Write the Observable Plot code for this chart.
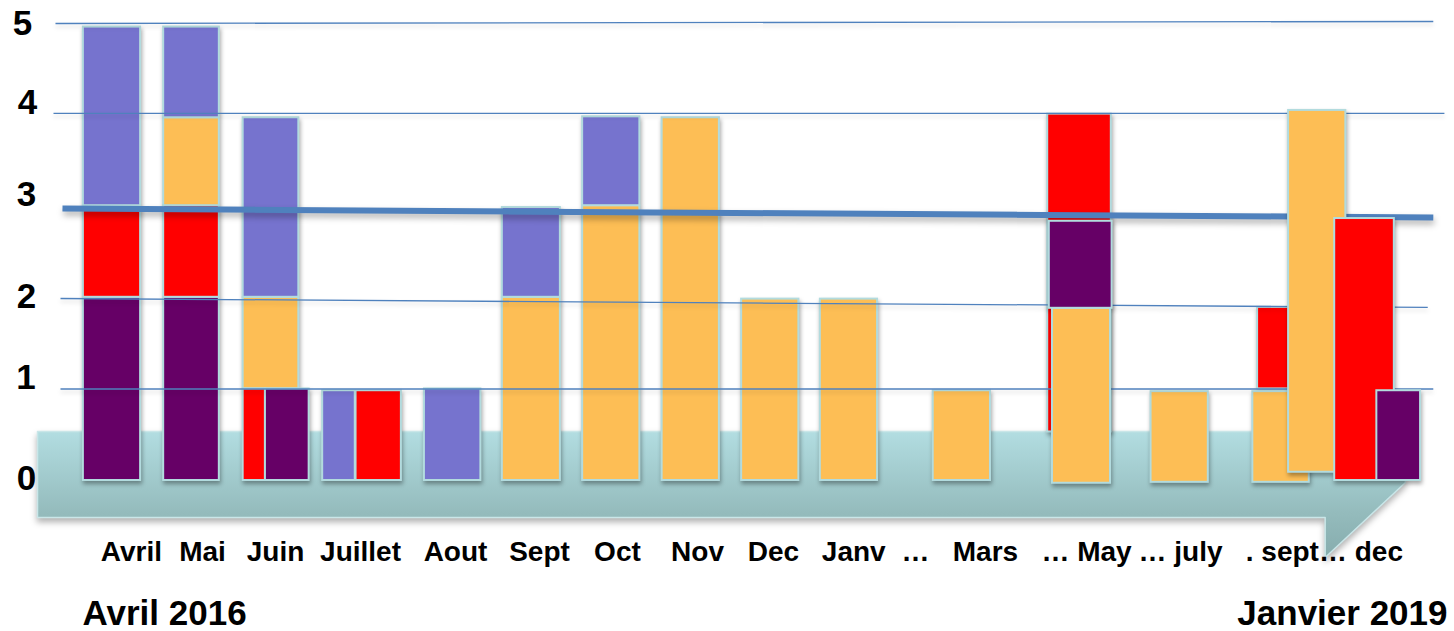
<!DOCTYPE html>
<html>
<head>
<meta charset="utf-8">
<script src="https://cdn.jsdelivr.net/npm/d3@7"></script>
<script src="https://cdn.jsdelivr.net/npm/@observablehq/plot@0.6"></script>
<style>
  html, body { margin: 0; padding: 0; background: #fff; }
  #chart { width: 1454px; height: 631px; overflow: hidden; }
</style>
</head>
<body>
<div id="chart"></div>
<script>
// ---------- DATA ----------
// time-axis labels and their positions on the (slot) time axis
const months = ["Avril", "Mai", "Juin", "Juillet", "Aout", "Sept", "Oct", "Nov", "Dec", "Janv", "…", "Mars", "… May", "… july", ". sept… dec"];
const monthSlots = [0.245, 1.138, 2.057, 3.126, 4.321, 5.377, 6.358, 7.365, 8.321, 9.33, 10.107, 10.987, 12.258, 13.44, 15.25];

// value-axis labels (hand placed next to their level)
const yTicks = [0, 1, 2, 3, 4, 5];
const yTickPos = [0.022, 1.124, 2.009, 3.122, 4.127, 4.989];
const yTickSlot = [-1.0755, -1.082, -1.0755, -1.0755, -1.063, -1.126];

const seriesNames = ["violet", "rouge", "orange", "prune"];

// stacked segments (in drawing order)
const segSeries = ["prune","rouge","violet", "prune","rouge","orange","violet", "orange","violet","rouge","prune", "violet","rouge", "violet", "orange","violet", "orange","violet", "orange", "orange", "orange", "orange", "rouge","orange","prune", "orange", "rouge","orange","orange", "rouge","prune"];
const segFrom   = [0,2,3, 0,2,3,3.96, 1,2,0,0, 0,0, 0, 0,2, 0,3, 0, 0, 0, 0, 0.53,-0.03,1.88, -0.02, 1,-0.02,0.09, 0,0];
const segTo     = [2,3,4.95, 2,3,3.96,4.95, 2,3.96,1,1, 0.98,0.98, 1, 2,2.98, 3,3.97, 3.96, 1.98, 1.98, 0.98, 4,1.88,2.83, 0.97, 1.89,0.97,4.04, 2.86,0.98];
const segLeft   = [-0.36,-0.36,-0.36, 0.65,0.65,0.65,0.65, 1.65,1.65,1.65,1.93, 2.65,3.07, 3.93, 4.91,4.91, 5.92,5.92, 6.92, 7.92, 8.91, 10.33, 11.77,11.83,11.79, 13.07, 14.41,14.35,14.80, 15.38,15.91];
const segRight  = [0.36,0.36,0.36, 1.35,1.35,1.35,1.35, 2.35,2.35,1.93,2.48, 3.06,3.64, 4.64, 5.64,5.64, 6.64,6.64, 7.64, 8.64, 9.63, 11.05, 12.57,12.56,12.58, 13.79, 14.82,15.06,15.52, 16.13,16.46];
const frontSegments = [23, 24, 28, 29, 30];

// horizontal guide lines (hand drawn, slightly slanted) and trend line
const gridFromX = [-0.648, -0.648, -0.736, -0.711];
const gridToX   = [16.62, 16.55, 16.76, 16.62];
const gridFromY = [0.999, 1.987, 4.007, 4.989];
const gridToY   = [0.999, 1.889, 4.007, 5.011];
const trendX = [-0.623, 16.62];
const trendY = [2.969, 2.871];

// timeline arrow outline
const arrowX = [-0.937, 16.21, 16.27, 15.26, 15.26, -0.937, -0.937];
const arrowY = [0.535, 0.535, -0.022, -0.841, -0.404, -0.404, 0.535];

const periodStart = "Avril 2016";
const periodEnd = "Janvier 2019";

// ---------- BUILD ----------
const segs = segSeries.map((s, i) => ({i, series: s, y1: segFrom[i], y2: segTo[i], x1: segLeft[i], x2: segRight[i]}));
const mainSegs = segs.filter(d => !frontSegments.includes(d.i));
const frontSegs = frontSegments.map(i => segs[i]);
const grid = gridFromX.map((x, i) => ({x1: x, x2: gridToX[i], y1: gridFromY[i], y2: gridToY[i]}));
const trend = [{x1: trendX[0], x2: trendX[1], y1: trendY[0], y2: trendY[1]}];
const arrow = arrowX.map((x, i) => ({x, y: arrowY[i]}));
const monthData = months.map((m, i) => ({m, x: monthSlots[i]}));
const tickData = yTicks.map((t, i) => ({t, x: yTickSlot[i], y: yTickPos[i]}));

const font = "'Liberation Sans', Arial, Helvetica, sans-serif";
const barOpts = {x1: "x1", x2: "x2", y1: "y1", y2: "y2", fill: "series", stroke: "#b2dbde", strokeWidth: 2,
  imageFilter: "drop-shadow(1px 3px 2px rgba(0,0,0,0.35))"};

const svg = Plot.plot({
  width: 1454,
  height: 631,
  margin: 0,
  style: {fontFamily: font, background: "white", color: "black"},
  x: {domain: [-111.5 / 79.5, (1454 - 111.5) / 79.5], axis: null},
  y: {domain: [(480 - 631) / 91.6, 480 / 91.6], axis: null},
  color: {domain: seriesNames, range: ["#7673CE", "#FF0000", "#FDBE55", "#660066"]},
  marks: [
    Plot.line(arrow, {x: "x", y: "y", fill: "url(#arrowGrad)", stroke: "#c9e6e8", strokeWidth: 1.5, curve: "linear",
      imageFilter: "drop-shadow(0px 4px 3px rgba(0,0,0,0.3))"}),
    Plot.rect(mainSegs, barOpts),
    Plot.link(grid, {x1: "x1", x2: "x2", y1: "y1", y2: "y2", stroke: "#4F81BD", strokeWidth: 1.3,
      imageFilter: "drop-shadow(0px 3px 2px rgba(0,0,0,0.15))"}),
    Plot.link(trend, {x1: "x1", x2: "x2", y1: "y1", y2: "y2", stroke: "#4F81BD", strokeWidth: 6,
      imageFilter: "drop-shadow(1px 4px 3px rgba(0,0,0,0.3))"}),
    Plot.rect(frontSegs, barOpts),
    Plot.text(tickData, {x: "x", y: "y", text: d => String(d.t), fontSize: 35, fontWeight: "bold", fill: "black", fontFamily: font}),
    Plot.text(monthData, {x: "x", y: () => -0.786, text: "m", fontSize: 28, fontWeight: "bold", fill: "black", fontFamily: font}),
    Plot.text([periodStart], {x: () => -0.371, y: () => -1.452, text: d => d, textAnchor: "start", fontSize: 35, fontWeight: "bold", fill: "black", fontFamily: font}),
    Plot.text([periodEnd], {x: () => 16.799, y: () => -1.452, text: d => d, textAnchor: "end", fontSize: 35, fontWeight: "bold", fill: "black", fontFamily: font})
  ]
});

const defs = d3.select(svg).insert("defs", ":first-child");
const g = defs.append("linearGradient").attr("id", "arrowGrad").attr("x1", 0).attr("y1", 0).attr("x2", 0).attr("y2", 1);
g.append("stop").attr("offset", "0%").attr("stop-color", "#B2DDE1");
g.append("stop").attr("offset", "65%").attr("stop-color", "#94BBBC");
g.append("stop").attr("offset", "100%").attr("stop-color", "#86ACAD");

document.getElementById("chart").appendChild(svg);
</script>
</body>
</html>
